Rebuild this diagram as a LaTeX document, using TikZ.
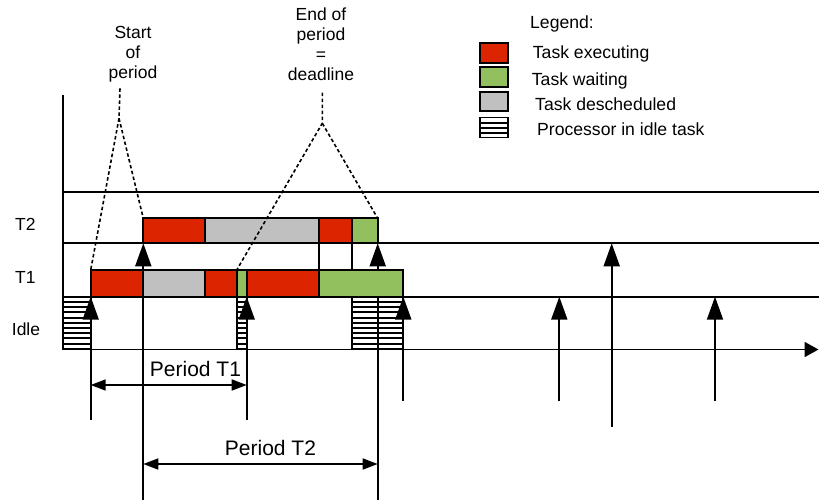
\documentclass[tikz,border=0pt]{standalone}
\usepackage{fontspec}
\setmainfont{Liberation Sans}
\usetikzlibrary{arrows.meta}
\definecolor{execred}{RGB}{221,36,0}
\definecolor{waitgreen}{RGB}{146,192,94}
\definecolor{deschgray}{RGB}{192,192,192}
\begin{document}
\begin{tikzpicture}[x=1pt,y=-1pt,
  gridline/.style={line width=1.8pt},
  bar/.style={draw, line width=1.9pt},
  execbox/.style={bar, fill=execred},
  waitbox/.style={bar, fill=waitgreen},
  deschbox/.style={bar, fill=deschgray},
  idlebox/.style={draw, line width=1.8pt, path picture={
      \foreach \k in {1,...,12}
        \draw[line width=2pt]
          ([yshift=-\k*5.2pt]path picture bounding box.north west) --
          ([yshift=-\k*5.2pt]path picture bounding box.north east);}},
  releasearrow/.style={line width=1.9pt, -{Triangle[width=16pt,length=23pt]}},
  periodspan/.style={line width=1.7pt,
      {Triangle[width=11pt,length=15pt]}-{Triangle[width=11pt,length=15pt]}},
  guide/.style={line width=1.6pt, dash pattern=on 3.5pt off 2.5pt},
  lbl/.style={font=\fontsize{17.5}{20}\selectfont, inner sep=0pt},
  legtext/.style={font=\fontsize{17.6}{20}\selectfont, inner sep=0pt, anchor=base west},
  periodtext/.style={font=\fontsize{21}{24}\selectfont, inner sep=0pt, anchor=base}
]
\useasboundingbox (0,0) rectangle (819,501);

% rows
\def\yTtwoTop{218.3}  \def\yTtwoBot{243.3}
\def\yToneTop{270}    \def\yToneBot{296.7}
\def\yAxis{349.5}

% idle processor intervals
\draw[idlebox] (63.3,\yToneBot) rectangle (90.7,\yAxis);
\draw[idlebox] (236.7,\yToneBot) rectangle (246.7,\yAxis);
\draw[idlebox] (351.7,\yToneBot) rectangle (403.3,\yAxis);

% time grid
\coordinate (axtop) at (63.3,95);
\coordinate (axorg) at (63.3,\yAxis);
\coordinate (axend) at (818.5,\yAxis);
\draw[gridline] (axtop) -- (axorg);
\draw[gridline] (63.3,191.7) -- (819,191.7);
\draw[gridline] (63.3,\yTtwoBot) -- (819,\yTtwoBot);
\draw[gridline] (63.3,\yToneBot) -- (819,\yToneBot);
\draw[gridline, -{Triangle[width=15pt,length=14pt]}] (axorg) -- (axend);

% release instants (drawn under the bars)
\foreach \x/\ytip/\ybot in {90.7/\yToneBot/420, 143.3/\yTtwoBot/500,
    246.7/\yToneBot/420, 377.7/\yTtwoBot/500, 403.3/\yToneBot/400.7,
    559.3/\yToneBot/401, 611.7/\yTtwoBot/426.7, 715/\yToneBot/401}
  \draw[releasearrow] (\x,\ybot) -- (\x,\ytip);

% task T2
\draw[execbox]  (143.3,\yTtwoTop) rectangle (205,\yTtwoBot);
\draw[deschbox] (205,\yTtwoTop)   rectangle (319,\yTtwoBot);
\draw[execbox]  (319,\yTtwoTop)   rectangle (351.7,\yTtwoBot);
\draw[waitbox]  (351.7,\yTtwoTop) rectangle (377.7,\yTtwoBot);

% task T1
\draw[execbox]  (90.7,\yToneTop)  rectangle (143.3,\yToneBot);
\draw[deschbox] (143.3,\yToneTop) rectangle (205,\yToneBot);
\draw[execbox]  (205,\yToneTop)   rectangle (236.7,\yToneBot);
\draw[waitbox]  (236.7,\yToneTop) rectangle (246.7,\yToneBot);
\draw[execbox]  (246.7,\yToneTop) rectangle (319,\yToneBot);
\draw[waitbox]  (319,\yToneTop)   rectangle (403.3,\yToneBot);

% links between the rows
\draw[bar] (319,\yTtwoBot) -- (319,\yToneTop);
\draw[bar] (351.7,\yTtwoBot) -- (351.7,\yToneTop);

% row labels
\node[lbl, anchor=base west] (rowT2) at (15,230) {T2};
\node[lbl, anchor=base west] (rowT1) at (15,283.3) {T1};
\node[lbl, anchor=base west] (rowIdle) at (11.7,335) {Idle};

% annotations
\node[lbl, align=center, anchor=north] (startlbl) at (133,26.5) {Start\\of\\period};
\node[lbl, align=center, anchor=north] (endlbl) at (321,7.5) {End of\\period\\=\\deadline};
\coordinate (starttop) at (120,88.3);
\coordinate (startfork) at (119,118.3);
\coordinate (endtop) at (322.3,92.7);
\coordinate (endfork) at (322.3,123.3);
\coordinate (Tonestart) at (90.7,\yToneTop);
\coordinate (Ttwostart) at (143.3,\yTtwoTop);
\coordinate (Toneend) at (236.7,\yToneTop);
\coordinate (Ttwoend) at (377.7,\yTtwoTop);
\draw[guide] (starttop) -- (startfork) -- (Tonestart);
\draw[guide] (startfork) -- (Ttwostart);
\draw[guide] (endtop) -- (endfork) -- (Toneend);
\draw[guide] (endfork) -- (Ttwoend);

% periods
\coordinate (pOneL) at (90.7,385);
\coordinate (pOneR) at (246.7,385);
\coordinate (pTwoL) at (143.3,464);
\coordinate (pTwoR) at (377.7,464);
\draw[periodspan] (pOneL) -- (pOneR);
\draw[periodspan] (pTwoL) -- (pTwoR);
\node[periodtext] (periodT1) at (195.5,376.7) {Period T1};
\node[periodtext] (periodT2) at (270.5,455) {Period T2};

% legend
\node[legtext] (legtitle) at (530,28.3) {Legend:};
\draw[execbox]  (480,43)  rectangle (508,63);
\draw[waitbox]  (480,67)  rectangle (508,87);
\draw[deschbox] (480,92)  rectangle (508,111);
\draw[idlebox]  (480,117.5) rectangle (508,137.5);
\node[legtext] (legexec) at (532.7,58.3) {Task executing};
\node[legtext] (legwait) at (531.7,85) {Task waiting};
\node[legtext] (legdesch) at (535,110) {Task descheduled};
\node[legtext] (legidle) at (537,135) {Processor in idle task};
\end{tikzpicture}
\end{document}
